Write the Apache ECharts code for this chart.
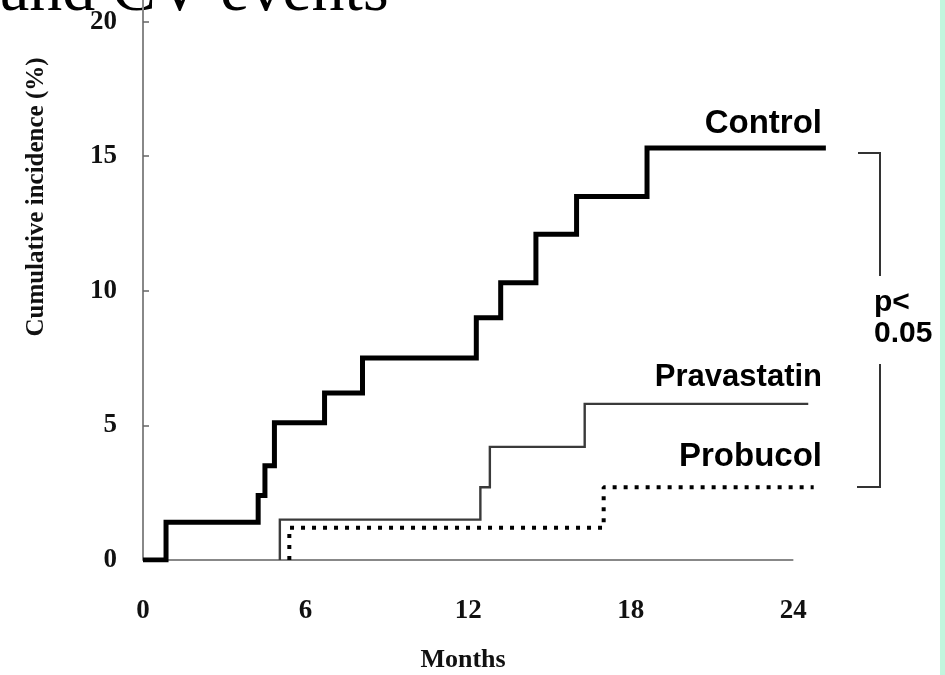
<!DOCTYPE html>
<html><head><meta charset="utf-8">
<script src="https://cdn.jsdelivr.net/npm/echarts@6/dist/echarts.min.js"></script>
<style>html,body{margin:0;padding:0;background:#fff}#c{width:945px;height:675px}</style>
</head><body><div id="c"></div>
<script>
// Tick labels
const monthTicks = [0, 6, 12, 18, 24];
const incidenceTicks = [0, 5, 10, 15, 20];
// Series (months, cumulative incidence %) — step changes
const controlMonths = [0, 0.85, 4.25, 4.5, 4.85, 6.7, 8.1, 12.3, 13.2, 14.5, 16.0, 18.6, 25.2];
const controlValues = [0, 1.4, 2.4, 3.5, 5.1, 6.2, 7.5, 9.0, 10.3, 12.1, 13.5, 15.3, 15.3];
const pravastatinMonths = [5.05, 5.05, 12.45, 12.8, 16.3, 24.55];
const pravastatinValues = [0, 1.5, 2.7, 4.2, 5.8, 5.8];
const probucolMonths = [5.4, 5.4, 17.0, 24.75];
const probucolValues = [0, 1.2, 2.7, 2.7];
const seriesNames = ['Control', 'Pravastatin', 'Probucol'];
const pText = ['p<', '0.05'];
const titleText = 'and CV events';
const xName = 'Months';
const yName = 'Cumulative incidence (%)';

const zip = (a, b) => a.map((v, i) => [v, b[i]]);
const chart = echarts.init(document.getElementById('c'), null, {renderer: 'canvas'});
const serif = 'Liberation Serif';
const sans = 'Liberation Sans';
const lineBase = {type: 'line', step: 'end', showSymbol: false, animation: false, silent: true};
const baseline = [[monthTicks[0], 0], [monthTicks[monthTicks.length - 1], 0]];

chart.setOption({
  backgroundColor: '#fff',
  animation: false,
  grid: {left: 143, right: 111, top: 0, bottom: 115},
  xAxis: {
    type: 'value', min: 0, max: 25.5, interval: 6,
    axisLine: {show: false},
    axisTick: {show: false},
    splitLine: {show: false},
    axisLabel: {fontFamily: serif, fontWeight: 'bold', fontSize: 27, color: '#111', margin: 38,
      showMaxLabel: false,
      formatter: v => monthTicks.includes(v) ? String(v) : ''}
  },
  yAxis: {
    type: 'value', min: 0, max: 20.8, interval: 5,
    axisLine: {show: true, lineStyle: {color: '#888', width: 2}},
    axisTick: {show: true, inside: true, length: 6, lineStyle: {color: '#666', width: 1.5}},
    splitLine: {show: false},
    axisLabel: {fontFamily: serif, fontWeight: 'bold', fontSize: 27, color: '#111', margin: 26,
      showMaxLabel: false,
      formatter: v => incidenceTicks.includes(v) ? String(v) : ''}
  },
  series: [
    Object.assign({}, lineBase, {name: 'axis', step: false, data: baseline, z: 1,
      lineStyle: {color: '#888', width: 2}}),
    Object.assign({}, lineBase, {name: seriesNames[0], data: zip(controlMonths, controlValues), z: 5,
      lineStyle: {color: '#000', width: 5, join: 'miter', cap: 'butt'}}),
    Object.assign({}, lineBase, {name: seriesNames[1], data: zip(pravastatinMonths, pravastatinValues), z: 4,
      lineStyle: {color: '#3a3a3a', width: 2.4, join: 'miter'}}),
    Object.assign({}, lineBase, {name: seriesNames[2], data: zip(probucolMonths, probucolValues), z: 4,
      lineStyle: {color: '#000', width: 4, type: [4, 7], cap: 'butt'}})
  ],
  graphic: [
    {type: 'rect', shape: {x: 940, y: 0, width: 5, height: 675}, style: {fill: '#c2f5dd'}},
    {type: 'text', x: 0, y: -7, style: {text: titleText, font: 'normal 66px ' + serif, fill: '#000', verticalAlign: 'middle', align: 'left'}},
    {type: 'text', x: 37, y: 197, rotation: Math.PI / 2,
      style: {text: yName, font: 'bold 25px ' + serif, fill: '#111', align: 'center', verticalAlign: 'middle'}},
    {type: 'text', x: 463, y: 660, style: {text: xName, font: 'bold 26px ' + serif, fill: '#111', align: 'center', verticalAlign: 'middle'}},
    {type: 'text', x: 822, y: 124, style: {text: seriesNames[0], font: 'bold 33px ' + sans, fill: '#000', align: 'right', verticalAlign: 'middle'}},
    {type: 'text', x: 822, y: 377, style: {text: seriesNames[1], font: 'bold 31px ' + sans, fill: '#000', align: 'right', verticalAlign: 'middle'}},
    {type: 'text', x: 822, y: 457, style: {text: seriesNames[2], font: 'bold 33px ' + sans, fill: '#000', align: 'right', verticalAlign: 'middle'}},
    {type: 'polyline', shape: {points: [[858, 153], [880, 153], [880, 276]]}, style: {stroke: '#333', lineWidth: 2, fill: null}},
    {type: 'polyline', shape: {points: [[880, 364], [880, 487], [857, 487]]}, style: {stroke: '#333', lineWidth: 2, fill: null}},
    {type: 'text', x: 874, y: 303, style: {text: pText[0], font: 'bold 30px ' + sans, fill: '#000', align: 'left', verticalAlign: 'middle'}},
    {type: 'text', x: 874, y: 334, style: {text: pText[1], font: 'bold 30px ' + sans, fill: '#000', align: 'left', verticalAlign: 'middle'}}
  ]
});
</script></body></html>
